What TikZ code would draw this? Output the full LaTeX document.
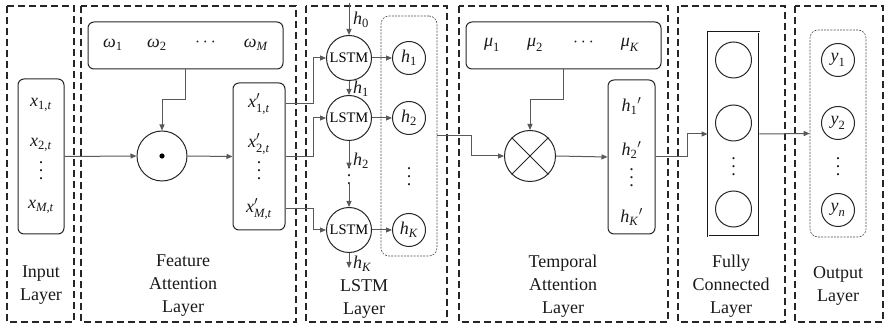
\RequirePackage{fix-cm}
\documentclass[tikz,border=0pt]{standalone}
\usepackage{amsmath,amssymb}
\usepackage{fontspec}
\setmainfont{Liberation Serif}
\usepackage{tikz}
\usetikzlibrary{arrows.meta,calc,positioning}
\newcommand{\iv}[1]{\textit{#1}}
\newcommand{\vpts}{\vbox{\baselineskip=8pt\lineskiplimit=-20pt\hbox{.}\hbox{.}\hbox{.}}}

\tikzset{
  couche/.style={draw=black!85,line width=1.5pt,dash pattern=on 7pt off 4pt},
  vecteur/.style={draw=black!85,line width=1pt,rounded corners=6pt,inner sep=0pt},
  groupe/.style={draw=black!70,line width=0.6pt,dash pattern=on 2pt off 1.2pt,rounded corners=8pt,inner sep=0pt},
  neurone/.style={circle,draw=black!85,line width=1pt,inner sep=0pt},
  fleche/.style={draw=black!65,line width=1pt,-{Triangle[length=6pt,width=5pt]}},
  titre/.style={font=\fontsize{18}{23}\selectfont,align=center,text=black!90},
  elem/.style={font=\fontsize{18}{20}\selectfont,inner sep=1pt,text=black!90},
  points/.style={font=\fontsize{18}{20}\selectfont,inner sep=0pt,text=black!90},
}

\begin{document}
\begin{tikzpicture}[x=1pt,y=-1pt]
  \useasboundingbox (0,0) rectangle (885,328);
  % couches en pointillés
  \draw[couche] (7,6) rectangle (74,322);
  \draw[couche] (81,6) rectangle (296,322);
  \draw[couche] (306,6) rectangle (447,322);
  \draw[couche] (459,6) rectangle (668,322);
  \draw[couche] (678,6) rectangle (785,322);
  \draw[couche] (795,6) rectangle (883,322);
  % entrée
  \node[vecteur,minimum width=46pt,minimum height=155pt] (xin) at (41,156.5) {};
  \node[elem] (xin1) at (41,105) {$\iv{x}_{\text{1,\iv{t}}}$};
  \node[elem] (xin2) at (41,145) {$\iv{x}_{\text{2,\iv{t}}}$};
  \node[points] (xind) at (41,171) {\vpts};
  \node[elem] (xinM) at (41,207) {$\iv{x}_{\text{\iv{M},\iv{t}}}$};
  \node[titre] (tin) at (41,285) {Input\\Layer};
  % attention sur les variables
  \node[vecteur,minimum width=195pt,minimum height=47pt] (omg) at (185.5,45.5) {};
  \node[elem] (omg1) at (113,45) {$\iv{ω}_{\text{1}}$};
  \node[elem] (omg2) at (157,45) {$\iv{ω}_{\text{2}}$};
  \node[elem] (omgd) at (207,43) {$\cdots$};
  \node[elem] (omgM) at (256,45) {$\iv{ω}_{\text{\iv{M}}}$};
  \node[neurone,minimum size=50pt] (dot) at (162,156) {};
  \fill[black] (dot.center) circle (2.6pt);
  \coordinate (omgc) at (185.5,100);
  \draw[fleche] (omg.south) -- (omgc) -| (dot.north);
  \draw[fleche] (xin.east) -- (dot.west);
  \node[vecteur,minimum width=52pt,minimum height=147pt] (xpr) at (259,156.5) {};
  \node[elem] (xp1) at (259,104) {$\iv{x}'_{\text{1,\iv{t}}}$};
  \node[elem] (xp2) at (259,144) {$\iv{x}'_{\text{2,\iv{t}}}$};
  \node[points] (xpd) at (259,171) {\vpts};
  \node[elem] (xpM) at (259,209) {$\iv{x}'_{\text{\iv{M},\iv{t}}}$};
  \draw[fleche] (dot.east) -- (xpr.west);
  \node[titre] (tfa) at (183,286) {Feature\\Attention\\Layer};
  % LSTM
  \node[neurone,minimum size=45pt,font=\fontsize{14.5}{16}\selectfont] (l1) at (349,58) {LSTM};
  \node[neurone,minimum size=45pt,font=\fontsize{14.5}{16}\selectfont] (l2) at (349,118) {LSTM};
  \node[neurone,minimum size=45pt,font=\fontsize{14.5}{16}\selectfont] (l3) at (349,230) {LSTM};
  \node[points] (ld) at (349,176) {\vpts};
  \coordinate (h0in) at (349,3);
  \coordinate (hKout) at (349,268);
  \draw[fleche] (h0in) -- (l1.north);
  \draw[fleche] (l1.south) -- (l2.north);
  \draw[fleche] (l2.south) -- ([yshift=-2pt]ld.north);
  \draw[fleche] ([yshift=2pt]ld.south) -- (l3.north);
  \draw[fleche] (l3.south) -- (hKout);
  \node[elem,anchor=west] (lh0) at (352,20) {$\iv{h}_{\text{0}}$};
  \node[elem,anchor=west] (lh1) at (352,89) {$\iv{h}_{\text{1}}$};
  \node[elem,anchor=west] (lh2) at (352,161) {$\iv{h}_{\text{2}}$};
  \node[elem,anchor=west] (lhK) at (352,264) {$\iv{h}_{\text{\iv{K}}}$};
  \draw[fleche] (xpr.east |- xp1) -- ++(28,0) |- (l1.west);
  \draw[fleche] (xpr.east) -- ++(28,0) |- (l2.west);
  \draw[fleche] (xpr.east |- xpM) -- ++(28,0) |- (l3.west);
  \node[groupe,minimum width=56pt,minimum height=240pt] (hbox) at (409,136) {};
  \node[neurone,minimum size=33pt,elem] (h1) at (409,58) {$\iv{h}_{\text{1}}$};
  \node[neurone,minimum size=33pt,elem] (h2) at (409,118) {$\iv{h}_{\text{2}}$};
  \node[points] (hd) at (409,177) {\vpts};
  \node[neurone,minimum size=33pt,elem] (hK) at (409,230) {$\iv{h}_{\text{\iv{K}}}$};
  \draw[fleche] (l1.east) -- (h1.west);
  \draw[fleche] (l2.east) -- (h2.west);
  \draw[fleche] (l3.east) -- (hK.west);
  \node[titre] (tls) at (364,299) {LSTM\\Layer};
  % attention temporelle
  \node[vecteur,minimum width=195pt,minimum height=47pt] (mu) at (563.5,45.5) {};
  \node[elem] (mu1) at (492,45) {$\iv{μ}_{\text{1}}$};
  \node[elem] (mu2) at (535,45) {$\iv{μ}_{\text{2}}$};
  \node[elem] (mud) at (585,43) {$\cdots$};
  \node[elem] (muK) at (630,45) {$\iv{μ}_{\text{\iv{K}}}$};
  \node[neurone,minimum size=51pt] (otm) at (530,156) {};
  \draw[black!85,line width=1pt] (otm.north west) -- (otm.south east)
        (otm.north east) -- (otm.south west);
  \coordinate (muc) at (563.5,100);
  \draw[fleche] (mu.south) -- (muc) -| (otm.north);
  \draw[fleche] (hbox.east) -- ++(34,0) |- (otm.west);
  \node[vecteur,minimum width=47pt,minimum height=154pt] (hpr) at (631.5,157) {};
  \node[elem] (hp1) at (631.5,106) {$\iv{h}_{\text{1}}{}'$};
  \node[elem] (hp2) at (631.5,150) {$\iv{h}_{\text{2}}{}'$};
  \node[points] (hpd) at (631.5,178) {\vpts};
  \node[elem] (hpK) at (631.5,217) {$\iv{h}_{\text{\iv{K}}}{}'$};
  \draw[fleche] (otm.east) -- (hpr.west);
  \node[titre] (tta) at (563,286) {Temporal\\Attention\\Layer};
  % couche dense
  \node[draw=black!90,line width=0.7pt,double=white,double distance=0.5pt,minimum width=51pt,minimum height=204pt] (fc) at (733.5,134) {};
  \node[neurone,minimum size=36pt] (f1) at (733.5,60) {};
  \node[neurone,minimum size=36pt] (f2) at (733.5,123) {};
  \node[points] (fd) at (733.5,167) {\vpts};
  \node[neurone,minimum size=36pt] (fn) at (733.5,209) {};
  \draw[fleche] (hpr.east) -- ++(32,0) |- (fc.west);
  \node[titre] (tfc) at (731,286) {Fully\\Connected\\Layer};
  % sortie
  \node[groupe,minimum width=56pt,minimum height=207pt] (ybox) at (838,133.5) {};
  \node[neurone,minimum size=33pt,elem] (y1) at (838,60) {$\iv{y}_{\text{1}}$};
  \node[neurone,minimum size=33pt,elem] (y2) at (838,123) {$\iv{y}_{\text{2}}$};
  \node[points] (yd) at (838,167) {\vpts};
  \node[neurone,minimum size=33pt,elem] (yn) at (838,210) {$\iv{y}_{\iv{n}}$};
  \draw[fleche] (fc.east) -- (ybox.west);
  \node[titre] (tout) at (838,286) {Output\\Layer};
\end{tikzpicture}
\end{document}
